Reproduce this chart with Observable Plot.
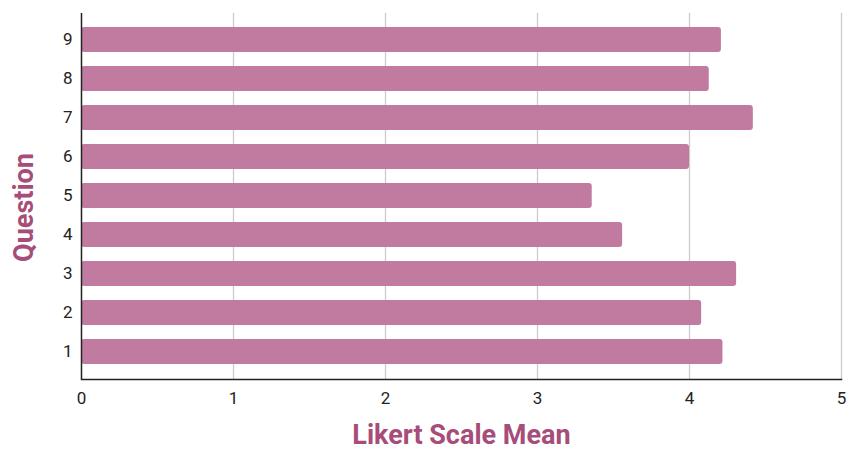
<!DOCTYPE html>
<html>
<head>
<meta charset="utf-8">
<script src="https://cdn.jsdelivr.net/npm/d3@7"></script>
<script src="https://cdn.jsdelivr.net/npm/@observablehq/plot@0.6"></script>
<style>
  html, body { margin: 0; padding: 0; background: #fff; }
  #chart svg { font-family: Roboto, "Liberation Sans", sans-serif; }
  #chart g[aria-label="x-axis label"] text,
  #chart g[aria-label="y-axis label"] text { font-size: 27px; font-weight: bold; fill: #a64d79; }
  #chart g[aria-label="y-axis label"] { translate: 0px 11px; }
</style>
</head>
<body>
<div id="chart"></div>
<script>
const questions = ["1", "2", "3", "4", "5", "6", "7", "8", "9"];
const means = [4.22, 4.08, 4.31, 3.56, 3.36, 4.00, 4.42, 4.13, 4.21];
const xTicks = [0, 1, 2, 3, 4, 5];

const data = questions.map((q, i) => ({ question: q, mean: means[i] }));

const chart = Plot.plot({
  width: 849,
  height: 450,
  marginLeft: 81,
  marginRight: 8,
  marginTop: 13,
  marginBottom: 71,
  style: { background: "#fff", color: "#222", fontFamily: "Roboto, sans-serif", fontSize: "17px" },
  x: { domain: [0, 5] },
  y: { domain: questions.slice().reverse(), padding: 0.35 },
  marks: [
    Plot.gridX(xTicks.slice(1), { stroke: "#cccccc", strokeOpacity: 1, strokeWidth: 1.3 }),
    Plot.barX(data, { x: "mean", y: "question", fill: "#c27ba0", rx: 3 }),
    Plot.axisX({
      ticks: xTicks,
      tickFormat: d3.format("d"),
      tickSize: 0,
      tickPadding: 12,
      fontSize: 17,
      label: "Likert Scale Mean",
      labelAnchor: "center",
      labelArrow: "none",
      labelOffset: 64
    }),
    Plot.axisY({
      tickSize: 0,
      tickPadding: 9,
      fontSize: 17,
      label: "Question",
      labelAnchor: "center",
      labelArrow: "none",
      labelOffset: 68
    }),
    Plot.ruleX([0], { stroke: "#222", strokeWidth: 1.5 }),
    Plot.frame({ anchor: "bottom", stroke: "#222", strokeWidth: 1.5 })
  ]
});
document.getElementById("chart").appendChild(chart);
</script>
</body>
</html>
